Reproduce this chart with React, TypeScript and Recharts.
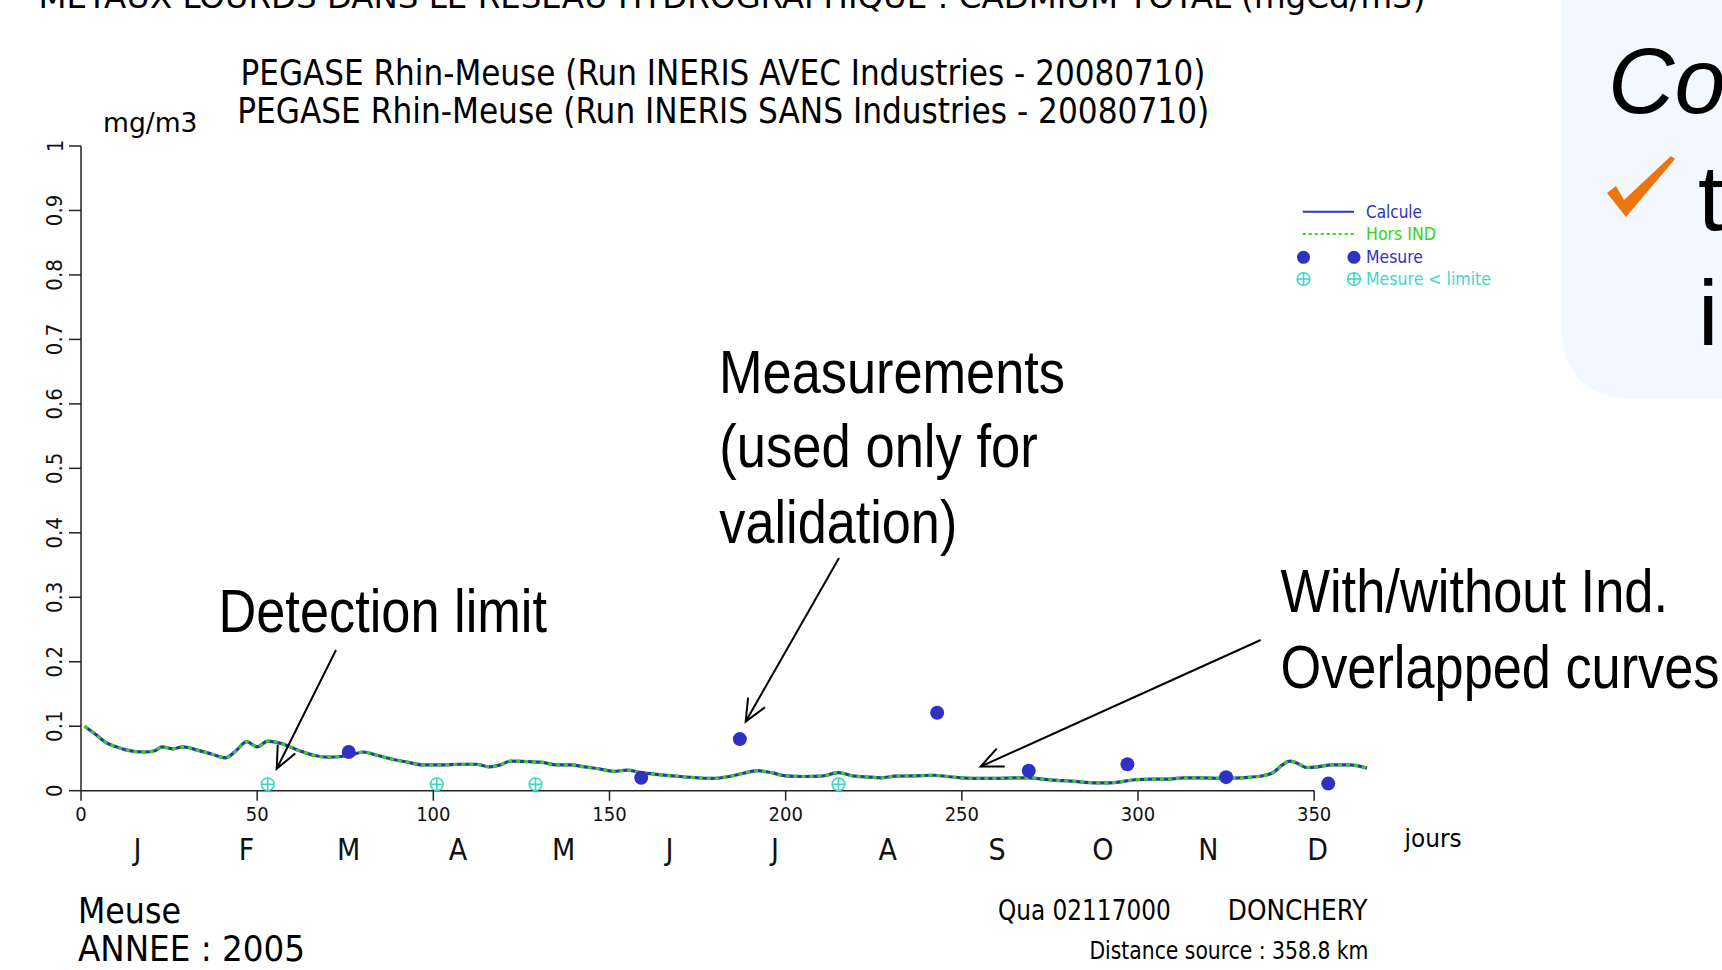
import React from "react"
import { ComposedChart, Line, Scatter, XAxis, YAxis, ReferenceLine, Legend } from "recharts"

// simulated curve (days of year, mg/m3)
const days = [
  1, 4, 7, 10, 13, 18, 21, 23, 26, 29, 33, 37, 41, 44, 47, 50, 53, 57, 62, 66, 70, 74, 77, 80, 84, 89,
  93, 97, 102, 108, 112, 116, 119, 122, 127, 131, 135, 139, 143, 147, 151, 155, 159, 164, 170, 175,
  179, 184, 188, 192, 196, 200, 205, 210, 215, 219, 224, 227, 231, 236, 242, 246, 250, 255, 260, 265,
  269, 273, 277, 281, 285, 290, 294, 299, 304, 309, 313, 318, 324, 329, 334, 338, 341, 343, 345, 348,
  351, 355, 360, 365,
]
const calcule = [
  0.1, 0.088, 0.075, 0.068, 0.063, 0.06, 0.062, 0.068, 0.065, 0.068, 0.063, 0.057, 0.051, 0.062, 0.076,
  0.068, 0.077, 0.073, 0.062, 0.055, 0.052, 0.053, 0.056, 0.06, 0.055, 0.048, 0.044, 0.04, 0.04, 0.041,
  0.041, 0.037, 0.04, 0.046, 0.045, 0.044, 0.04, 0.04, 0.037, 0.034, 0.03, 0.032, 0.028, 0.025, 0.022,
  0.02, 0.019, 0.022, 0.027, 0.031, 0.028, 0.023, 0.022, 0.0225, 0.028, 0.023, 0.021, 0.02, 0.0225,
  0.023, 0.024, 0.022, 0.02, 0.019, 0.019, 0.02, 0.02, 0.018, 0.016, 0.015, 0.013, 0.012, 0.013, 0.017,
  0.018, 0.018, 0.02, 0.02, 0.019, 0.02, 0.022, 0.027, 0.04, 0.046, 0.043, 0.036, 0.037, 0.04, 0.04,
  0.035,
]
const horsInd = [
  0.1, 0.088, 0.075, 0.068, 0.063, 0.06, 0.062, 0.068, 0.065, 0.068, 0.063, 0.057, 0.051, 0.062, 0.076,
  0.068, 0.077, 0.073, 0.062, 0.055, 0.052, 0.053, 0.056, 0.06, 0.055, 0.048, 0.044, 0.04, 0.04, 0.041,
  0.041, 0.037, 0.04, 0.046, 0.045, 0.044, 0.04, 0.04, 0.037, 0.034, 0.03, 0.032, 0.028, 0.025, 0.022,
  0.02, 0.019, 0.022, 0.027, 0.031, 0.028, 0.023, 0.022, 0.0225, 0.028, 0.023, 0.021, 0.02, 0.0225,
  0.023, 0.024, 0.022, 0.02, 0.019, 0.019, 0.02, 0.02, 0.018, 0.016, 0.015, 0.013, 0.012, 0.013, 0.017,
  0.018, 0.018, 0.02, 0.02, 0.019, 0.02, 0.022, 0.027, 0.04, 0.046, 0.043, 0.036, 0.037, 0.04, 0.04,
  0.035,
]

// measurements
const mesureDays = [76, 159, 187, 243, 269, 297, 325, 354]
const mesureValues = [0.06, 0.02, 0.08, 0.121, 0.031, 0.041, 0.021, 0.011]
const limiteDays = [53, 101, 129, 215]
const limiteValues = [0.01, 0.01, 0.01, 0.01]

const xTicks = [0, 50, 100, 150, 200, 250, 300, 350]
const yTicks = [0, 0.1, 0.2, 0.3, 0.4, 0.5, 0.6, 0.7, 0.8, 0.9, 1]
const monthTicks = [16, 47, 76, 107, 137, 167, 197, 229, 260, 290, 320, 351]
const monthLabels = ["J", "F", "M", "A", "M", "J", "J", "A", "S", "O", "N", "D"]

const lineData = days.map((d, i) => ({ day: d, calcule: calcule[i], hors: horsInd[i] }))
const mesureData = mesureDays.map((d, i) => ({ day: d, v: mesureValues[i] }))
const limiteData = limiteDays.map((d, i) => ({ day: d, v: limiteValues[i] }))
const allXTicks = [...xTicks, ...monthTicks].sort((a, b) => a - b)

const NARROW = "'Liberation Sans Narrow', 'DejaVu Sans Condensed', 'Arial Narrow', sans-serif"
const SANS = "'Liberation Sans', Arial, sans-serif"
const BLUE = "#2f31c4"
const GREEN = "#33d611"
const CYAN = "#3fd6c6"
const AXIS = "#222"

const YTick = (p: any) => {
  const cx = p.x - 8
  return (
    <text x={cx} y={p.y} transform={`rotate(-90 ${cx} ${p.y})`} textAnchor="middle" dominantBaseline="central"
      fontFamily={NARROW} fontSize={22} fill="#111">
      {p.payload.value}
    </text>
  )
}

// one axis carries both the day ticks and the month letters below them
const XTick = (p: any) => {
  const v = p.payload.value
  const mi = monthTicks.indexOf(v)
  if (mi >= 0) {
    return (
      <text x={p.x} y={p.y + 48} dy="0.71em" textAnchor="middle" fontFamily={NARROW} fontSize={30} fill="#111">
        {monthLabels[mi]}
      </text>
    )
  }
  return (
    <g>
      <line x1={p.x} y1={p.y} x2={p.x} y2={p.y + 10} stroke={AXIS} strokeWidth={1.5} />
      <text x={p.x} y={p.y + 16} dy="0.71em" textAnchor="middle" fontFamily={NARROW} fontSize={20} fill="#111">
        {v}
      </text>
    </g>
  )
}

const Dot = (p: any) => <circle cx={p.cx} cy={p.cy} r={7} fill={BLUE} />

const Limite = (p: any) => (
  <g stroke={CYAN} strokeWidth={1.6} fill="#fff">
    <circle cx={p.cx} cy={p.cy} r={6.3} />
    <line x1={p.cx - 6.3} y1={p.cy} x2={p.cx + 6.3} y2={p.cy} />
    <line x1={p.cx} y1={p.cy - 6.3} x2={p.cx} y2={p.cy + 6.3} />
  </g>
)

const LegendBox = () => (
  <svg width={230} height={100} style={{ display: "block" }}>
    <g fontFamily={NARROW} fontSize={17} dominantBaseline="central">
      <line x1={12.7} y1={16.7} x2={64} y2={16.7} stroke={BLUE} strokeWidth={2} />
      <text x={76} y={16.7} fill={BLUE} textLength={56} lengthAdjust="spacingAndGlyphs">Calcule</text>
      <line x1={12.7} y1={39} x2={64} y2={39} stroke={GREEN} strokeWidth={2} strokeDasharray="3 3" />
      <text x={76} y={39} fill={GREEN} textLength={70} lengthAdjust="spacingAndGlyphs">Hors IND</text>
      <circle cx={13.5} cy={62.3} r={6.5} fill={BLUE} />
      <circle cx={64} cy={62.3} r={6.5} fill={BLUE} />
      <text x={76} y={62.3} fill={BLUE} textLength={57} lengthAdjust="spacingAndGlyphs">Mesure</text>
      <Limite cx={13.5} cy={84} />
      <Limite cx={64} cy={84} />
      <text x={76} y={84} fill={CYAN} textLength={125} lengthAdjust="spacingAndGlyphs">Mesure &lt; limite</text>
    </g>
  </svg>
)

const Arrow = ({ x1, y1, x2, y2 }: { x1: number; y1: number; x2: number; y2: number }) => {
  const a = Math.atan2(y2 - y1, x2 - x1)
  const L = 24
  const w = 0.42
  const p1 = `${x2 - L * Math.cos(a - w)},${y2 - L * Math.sin(a - w)}`
  const p2 = `${x2 - L * Math.cos(a + w)},${y2 - L * Math.sin(a + w)}`
  return (
    <g stroke="#000" strokeWidth={2} fill="none">
      <line x1={x1} y1={y1} x2={x2} y2={y2} />
      <polyline points={`${p1} ${x2},${y2} ${p2}`} />
    </g>
  )
}

const T = ({ x, y, size, w, children, font = NARROW }: any) => (
  <text x={x} y={y} fontSize={size} fontFamily={font} textLength={w} lengthAdjust="spacingAndGlyphs" fill="#000">
    {children}
  </text>
)

export default function App() {
  return (
    <div style={{ position: "absolute", left: 0, top: 0, width: 1722, height: 970, overflow: "hidden", background: "#fff" }}>
      <svg width={1722} height={970} style={{ position: "absolute", left: 0, top: 0 }}>
        <rect x={1562} y={-80} width={300} height={478} rx={62} fill="#f3f8fe" />
        <text x={1608} y={113} fontFamily={SANS} fontSize={92} fontStyle="italic" fill="#000">Correct</text>
        <path d="M1607,193 L1616,186 L1624,200 L1671,156 L1675,159 L1626,217 Z" fill="#ec7510" />
        <text x={1698} y={230} fontFamily={SANS} fontSize={92} fill="#000">trends</text>
        <text x={1698} y={345} fontFamily={SANS} fontSize={92} fill="#000">in</text>
      </svg>
      <div style={{ position: "absolute", left: 0, top: 0 }}>
        <ComposedChart width={1722} height={970} margin={{ top: 146, right: 355, bottom: 71.3, left: 0 }}>
          <XAxis xAxisId="d" dataKey="day" type="number" domain={[0, 365]} ticks={allXTicks} interval={0}
            axisLine={false} tickLine={false} tickSize={0} tickMargin={0} height={108}
            tick={(p: any) => <XTick {...p} />} />
          <YAxis dataKey="v" type="number" domain={[0, 1]} ticks={yTicks} interval={0} width={81}
            axisLine={{ stroke: AXIS, strokeWidth: 1.5 }} tickLine={{ stroke: AXIS, strokeWidth: 1.5 }}
            tickSize={12} tickMargin={6} tick={(p: any) => <YTick {...p} />} />
          <ReferenceLine xAxisId="d" segment={[{ x: 0, y: 0 }, { x: 350, y: 0 }]} stroke={AXIS} strokeWidth={1.5}
            ifOverflow="visible" />
          <Line xAxisId="d" data={lineData} dataKey="calcule" type="monotone" stroke={BLUE} strokeWidth={3.2}
            dot={false} activeDot={false} isAnimationActive={false} />
          <Line xAxisId="d" data={lineData} dataKey="hors" type="monotone" stroke={GREEN} strokeWidth={3.2}
            strokeDasharray="4 4" dot={false} activeDot={false} isAnimationActive={false} />
          <Scatter xAxisId="d" data={limiteData} shape={(p: any) => <Limite {...p} />} isAnimationActive={false} />
          <Scatter xAxisId="d" data={mesureData} shape={(p: any) => <Dot {...p} />} isAnimationActive={false} />
          <Legend layout="horizontal" align="center" verticalAlign="middle" content={() => <LegendBox />}
            wrapperStyle={{ left: 1290, top: 195, width: 230, height: 100 }} />
        </ComposedChart>
      </div>
      <svg width={1722} height={970} style={{ position: "absolute", left: 0, top: 0, pointerEvents: "none" }}>
        <T x={38.4} y={8} size={32} w={1387}>METAUX LOURDS DANS LE RESEAU HYDROGRAPHIQUE : CADMIUM TOTAL (mgCd/m3)</T>
        <T x={240.5} y={84.6} size={36} w={965}>PEGASE Rhin-Meuse (Run INERIS AVEC Industries - 20080710)</T>
        <T x={237.2} y={123} size={36} w={972}>PEGASE Rhin-Meuse (Run INERIS SANS Industries - 20080710)</T>
        <T x={103} y={131.8} size={27} w={94.5}>mg/m3</T>
        <T x={1404.6} y={846.7} size={25} w={57}>jours</T>
        <T x={78} y={922.5} size={35} w={103}>Meuse</T>
        <T x={78} y={961} size={35} w={227}>ANNEE : 2005</T>
        <T x={998} y={920.3} size={29} w={172.7}>Qua 02117000</T>
        <T x={1227.8} y={920.3} size={29} w={139.5}>DONCHERY</T>
        <T x={1089.4} y={958.7} size={24} w={279}>Distance source : 358.8 km</T>

        <T x={218.5} y={631.5} size={62} w={328.5} font={SANS}>Detection limit</T>
        <T x={719} y={393} size={62} w={346} font={SANS}>Measurements</T>
        <T x={719.3} y={466.7} size={62} w={318.5} font={SANS}>(used only for</T>
        <T x={719.3} y={542.5} size={62} w={238} font={SANS}>validation)</T>
        <T x={1280.5} y={611.7} size={62} w={387.5} font={SANS}>With/without Ind.</T>
        <T x={1280.5} y={687.5} size={62} w={439} font={SANS}>Overlapped curves</T>

        <Arrow x1={336} y1={650} x2={276.7} y2={768.7} />
        <Arrow x1={839} y1={558} x2={745.7} y2={721.5} />
        <Arrow x1={1260.7} y1={640} x2={980.7} y2={766.5} />
      </svg>
    </div>
  )
}
